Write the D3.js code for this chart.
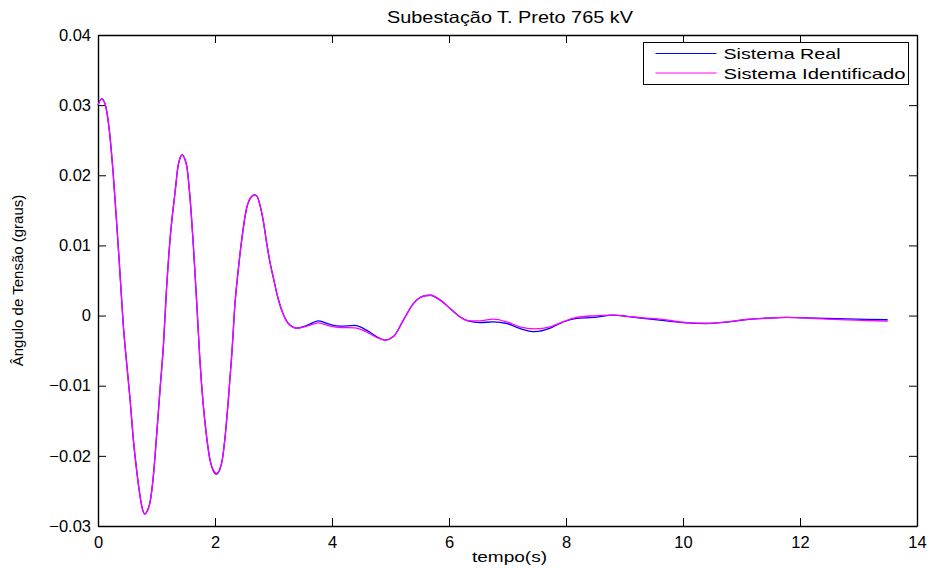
<!DOCTYPE html>
<html>
<head>
<meta charset="utf-8">
<script src="https://cdn.jsdelivr.net/npm/d3@7"></script>
<style>
  body { margin: 0; background: #fff; }
  text { font-family: "Liberation Sans", Arial, sans-serif; fill: #000; }
</style>
</head>
<body>
<svg width="932" height="569"></svg>
<script>
// time (s)
var tempo = [0, 0.06, 0.12, 0.2, 0.26, 0.32, 0.38, 0.43, 0.49, 0.55, 0.6, 0.66, 0.72, 0.76, 0.8, 0.84, 0.89, 0.945,
  1.0, 1.06, 1.12, 1.17, 1.23, 1.32, 1.37, 1.40, 1.44, 1.48, 1.52, 1.57, 1.63, 1.69, 1.74, 1.8, 1.86, 1.92, 1.97,
  2.03, 2.08, 2.12, 2.17, 2.23, 2.29, 2.34, 2.4, 2.46, 2.54, 2.62, 2.68, 2.72, 2.77, 2.83, 2.88, 2.94, 3.0,
  3.08, 3.17, 3.25, 3.4, 3.57, 3.77, 3.97, 4.14, 4.39, 4.59, 4.76, 4.91, 5.05, 5.22, 5.39, 5.56,
  5.68, 5.85, 6.02, 6.19, 6.33, 6.53, 6.76, 6.99, 7.21, 7.47, 7.73, 7.95, 8.18, 8.47, 8.81, 9.04,
  9.32, 9.6, 10.06, 10.4, 10.75, 11.09, 11.43, 11.77, 12.11, 12.45, 12.8, 13.14, 13.5];

var sistemaReal = [0.0300, 0.0309, 0.0302, 0.0259, 0.0202, 0.0131, 0.0055, -0.0011, -0.0068, -0.0121, -0.0173, -0.0220, -0.0258, -0.0276, -0.0283, -0.0279, -0.0266, -0.0230,
  -0.0173, -0.0106, -0.0040, 0.0036, 0.0107, 0.0178, 0.0214, 0.0224, 0.0229, 0.0224, 0.0212, 0.0171, 0.0100, 0.0015, -0.0061, -0.0128, -0.0175, -0.0208, -0.0221,
  -0.0226, -0.0220, -0.0208, -0.0175, -0.0118, -0.0052, 0.0015, 0.0067, 0.0110, 0.0153, 0.0169, 0.0172, 0.0170, 0.0157, 0.0133, 0.0105, 0.0076, 0.0053,
  0.0024, 0.0001, -0.0011, -0.0018, -0.0014, -0.00075, -0.00127, -0.00151, -0.00141, -0.00208, -0.0030, -0.0035, -0.0030, -0.00066, 0.0017, 0.00276,
  0.0029, 0.0022, 0.0010, -0.0002, -0.00075, -0.0010, -0.0009, -0.00113, -0.00184, -0.0023, -0.0018, -0.0009, -0.0004, -0.00027, 0.00005, -0.0001,
  -0.0004, -0.00066, -0.00104, -0.00113, -0.00094, -0.00056, -0.00037, -0.00027, -0.00033, -0.00041, -0.00047, -0.00056, -0.0006];

var sistemaIdent = [0.0300, 0.0309, 0.0302, 0.0259, 0.0202, 0.0131, 0.0055, -0.0011, -0.0068, -0.0121, -0.0173, -0.0220, -0.0258, -0.0276, -0.0283, -0.0279, -0.0266, -0.0230,
  -0.0173, -0.0106, -0.0040, 0.0036, 0.0107, 0.0178, 0.0214, 0.0224, 0.0229, 0.0224, 0.0212, 0.0171, 0.0100, 0.0015, -0.0061, -0.0128, -0.0175, -0.0208, -0.0220,
  -0.0225, -0.0219, -0.0208, -0.0175, -0.0118, -0.0052, 0.0015, 0.0067, 0.0110, 0.0153, 0.0169, 0.0172, 0.0170, 0.0157, 0.0133, 0.0105, 0.0076, 0.0053,
  0.0024, 0.0001, -0.0011, -0.0018, -0.0015, -0.00104, -0.00151, -0.0017, -0.00175, -0.00232, -0.0031, -0.0035, -0.0030, -0.00066, 0.0017, 0.00276,
  0.0029, 0.0022, 0.0010, -0.0002, -0.00075, -0.00075, -0.0005, -0.0009, -0.0016, -0.0019, -0.0016, -0.0009, -0.00027, -0.00004, 0.00005, -0.0001,
  -0.00033, -0.0005, -0.0010, -0.0011, -0.0009, -0.00055, -0.00037, -0.00027, -0.00035, -0.0005, -0.0006, -0.0007, -0.0008];

var xTicks = [0, 2, 4, 6, 8, 10, 12, 14];
var yTicks = [-0.03, -0.02, -0.01, 0, 0.01, 0.02, 0.03, 0.04];
var series = [
  { name: "Sistema Real", values: sistemaReal, color: "#0000ff", w: 117 },
  { name: "Sistema Identificado", values: sistemaIdent, color: "#ff00ff", w: 182 }
];

var svg = d3.select("svg"),
  margin = { top: 35, right: 15, bottom: 43, left: 98 },
  width = 917 - margin.left,
  height = 526 - margin.top;

var x = d3.scaleLinear().domain([0, 14]).range([0, width]),
  y = d3.scaleLinear().domain([-0.03, 0.04]).range([height, 0]);

var g = svg.append("g")
  .attr("transform", `translate(${margin.left},${margin.top})`);

var fmtY = d => d === 0 ? "0" : d3.format(".2f")(d);

// axes with inward ticks (MATLAB style)
g.append("g")
  .attr("transform", `translate(0,${height})`)
  .call(d3.axisBottom(x).tickValues(xTicks).tickSizeInner(-8).tickSizeOuter(0).tickPadding(10).tickFormat(d3.format("d")));
g.append("g")
  .call(d3.axisTop(x).tickValues(xTicks).tickSizeInner(-8).tickSizeOuter(0).tickFormat(""));
g.append("g")
  .call(d3.axisLeft(y).tickValues(yTicks).tickSizeInner(-8).tickSizeOuter(0).tickPadding(7).tickFormat(fmtY));
g.append("g")
  .attr("transform", `translate(${width},0)`)
  .call(d3.axisRight(y).tickValues(yTicks).tickSizeInner(-8).tickSizeOuter(0).tickFormat(""));

g.selectAll(".tick text").style("font-size", "16.5px").style("font-family", "Liberation Sans, Arial, sans-serif");
g.selectAll(".domain").attr("stroke", "#000").attr("stroke-width", 1.4);
g.selectAll(".tick line").attr("stroke", "#000");

var line = d3.line()
  .x((d, i) => x(tempo[i]))
  .y(d => y(d))
  .curve(d3.curveMonotoneX);

series.forEach(s => {
  g.append("path")
    .datum(s.values)
    .attr("fill", "none")
    .attr("stroke", s.color)
    .attr("stroke-width", 1.3)
    .attr("d", line);
});

// title and axis labels
svg.append("text")
  .attr("x", 387)
  .attr("y", 23)
  .attr("textLength", 246)
  .attr("lengthAdjust", "spacingAndGlyphs")
  .style("font-size", "16.5px")
  .text("Subestação T. Preto 765 kV");

svg.append("text")
  .attr("x", 472)
  .attr("y", 562)
  .attr("textLength", 75)
  .attr("lengthAdjust", "spacingAndGlyphs")
  .style("font-size", "15.5px")
  .text("tempo(s)");

svg.append("text")
  .attr("transform", `translate(23,${margin.top + height / 2}) rotate(-90)`)
  .attr("text-anchor", "middle")
  .style("font-size", "15px")
  .text("Ângulo de Tensão (graus)");

// legend
var legend = svg.append("g").attr("transform", "translate(643.5,42.5)");
legend.append("rect")
  .attr("width", 265).attr("height", 42)
  .attr("fill", "#fff").attr("stroke", "#000").attr("stroke-width", 1);
series.forEach((s, i) => {
  var yy = 11 + i * 19.5;
  legend.append("line")
    .attr("x1", 12).attr("x2", 73).attr("y1", yy).attr("y2", yy)
    .attr("stroke", s.color).attr("stroke-width", 1.2);
  legend.append("text")
    .attr("x", 80).attr("y", yy + 5.5)
    .attr("textLength", s.w)
    .attr("lengthAdjust", "spacingAndGlyphs")
    .style("font-size", "15px")
    .text(s.name);
});
</script>
</body>
</html>
